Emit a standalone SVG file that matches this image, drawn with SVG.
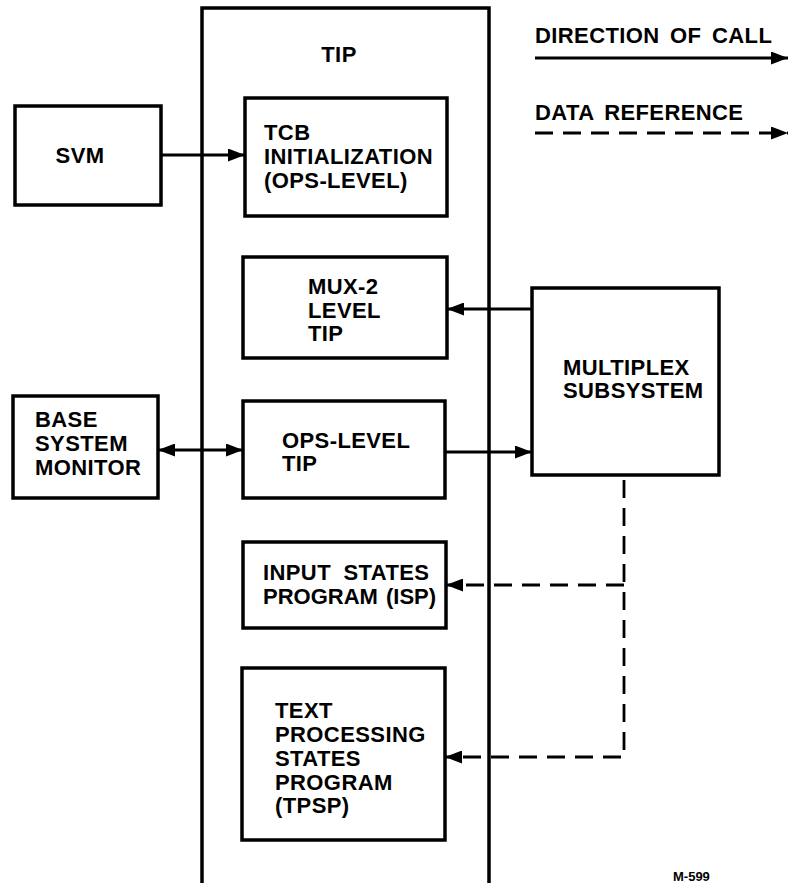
<svg xmlns="http://www.w3.org/2000/svg" width="788" height="883" viewBox="0 0 788 883">
<defs>
<style>
.box{fill:none;stroke:#000;stroke-width:3.5}
.t{font-family:"Liberation Sans",Arial,sans-serif;font-weight:bold;font-size:22px;fill:#000;letter-spacing:0.4px}
.ln{fill:none;stroke:#000;stroke-width:2.8}
.dash{fill:none;stroke:#000;stroke-width:2.8;stroke-dasharray:18 10}
</style>
<marker id="ah" viewBox="0 0 17 13" refX="17" refY="6.5" markerWidth="17" markerHeight="13" markerUnits="userSpaceOnUse" orient="auto-start-reverse">
<path d="M0,0 L17,6.5 L0,13 z" fill="#000"/>
</marker>
</defs>
<rect width="788" height="883" fill="#fff"/>
<g id="tip">
<rect class="box" x="202" y="8" width="287" height="880"/>
<text class="t" x="339" y="62" text-anchor="middle">TIP</text>
</g>
<g id="legend">
<text class="t" x="535" y="43" word-spacing="4">DIRECTION OF CALL</text>
<text class="t" x="535" y="120" word-spacing="4">DATA REFERENCE</text>
</g>
<g id="svm">
<rect class="box" x="15" y="106" width="146" height="99"/>
<text class="t" x="80" y="163" text-anchor="middle">SVM</text>
</g>
<g id="tcb">
<rect class="box" x="245" y="98" width="202" height="118"/>
<text class="t" x="264" y="140">TCB</text>
<text class="t" x="264" y="164">INITIALIZATION</text>
<text class="t" x="264" y="188">(OPS-LEVEL)</text>
</g>
<g id="mux2">
<rect class="box" x="243" y="257" width="204" height="101"/>
<text class="t" x="308" y="294">MUX-2</text>
<text class="t" x="308" y="318">LEVEL</text>
<text class="t" x="308" y="341">TIP</text>
</g>
<g id="multiplex">
<rect class="box" x="532" y="288" width="187" height="187"/>
<text class="t" x="563" y="375">MULTIPLEX</text>
<text class="t" x="563" y="398">SUBSYSTEM</text>
</g>
<g id="bsm">
<rect class="box" x="13" y="396" width="145" height="102"/>
<text class="t" x="35" y="427">BASE</text>
<text class="t" x="35" y="451">SYSTEM</text>
<text class="t" x="35" y="475">MONITOR</text>
</g>
<g id="opstip">
<rect class="box" x="243" y="401" width="202" height="97"/>
<text class="t" x="282" y="448">OPS-LEVEL</text>
<text class="t" x="282" y="471">TIP</text>
</g>
<g id="isp">
<rect class="box" x="243" y="542" width="203" height="86"/>
<text class="t" x="263" y="580" word-spacing="6">INPUT STATES</text>
<text class="t" x="263" y="604" style="letter-spacing:0" word-spacing="2">PROGRAM (ISP)</text>
</g>
<g id="tpsp">
<rect class="box" x="242" y="668" width="203" height="172"/>
<text class="t" x="275" y="718">TEXT</text>
<text class="t" x="275" y="742">PROCESSING</text>
<text class="t" x="275" y="766">STATES</text>
<text class="t" x="275" y="790">PROGRAM</text>
<text class="t" x="275" y="813">(TPSP)</text>
</g>
<g id="connectors">
<line class="ln" x1="535" y1="58" x2="788" y2="58" marker-end="url(#ah)"/>
<line class="dash" x1="535" y1="133" x2="788" y2="133" marker-end="url(#ah)"/>
<line class="ln" x1="161" y1="155" x2="245" y2="155" marker-end="url(#ah)"/>
<line class="ln" x1="532" y1="309" x2="447" y2="309" marker-end="url(#ah)"/>
<line class="ln" x1="158" y1="450" x2="243" y2="450" marker-start="url(#ah)" marker-end="url(#ah)"/>
<line class="ln" x1="445" y1="452" x2="532" y2="452" marker-end="url(#ah)"/>
<polyline class="dash" points="624,480 624,757 445,757" marker-end="url(#ah)"/>
<line class="dash" x1="624" y1="585" x2="446" y2="585" marker-end="url(#ah)"/>
</g>
<text class="t" x="673" y="881" style="font-size:13px;letter-spacing:0">M-599</text>
</svg>
